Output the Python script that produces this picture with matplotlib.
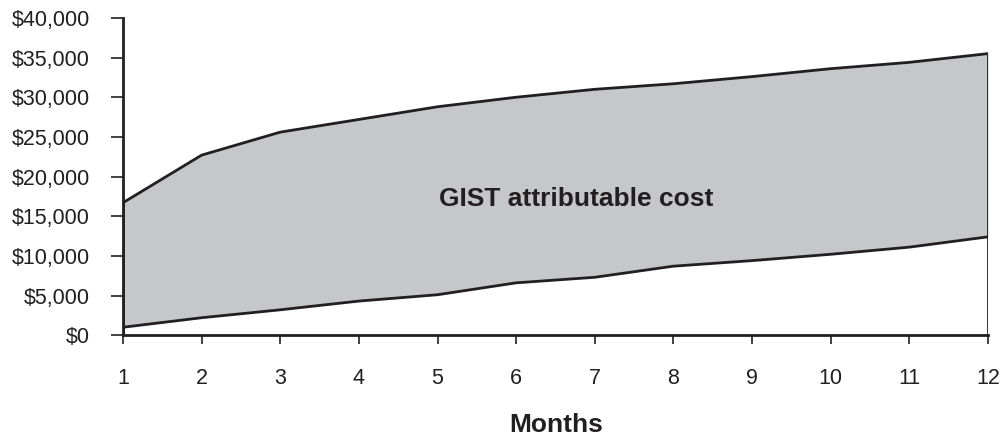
import numpy as np
import matplotlib.pyplot as plt
from matplotlib.ticker import FuncFormatter

plt.rcParams['font.family'] = ['Liberation Sans', 'DejaVu Sans']

months = [1, 2, 3, 4, 5, 6, 7, 8, 9, 10, 11, 12]
upper = [16700, 22700, 25600, 27200, 28800, 30000, 31000, 31700, 32600, 33600, 34400, 35500]
lower = [1000, 2200, 3200, 4300, 5100, 6600, 7300, 8700, 9400, 10200, 11100, 12400]
yticks = [0, 5000, 10000, 15000, 20000, 25000, 30000, 35000, 40000]

ink = '#231f20'
grey = '#c6c7c9'

fig = plt.figure(figsize=(10, 4.37), dpi=100)
ax = fig.add_axes([0.123, 0.233, 0.865, 0.726])

x = np.array(months)
ax.fill_between(x, lower, upper, color=grey, lw=0)
ax.plot(x, upper, color=ink, lw=2, solid_joinstyle='round')
ax.plot(x, lower, color=ink, lw=2, solid_joinstyle='round')
# vertical edges of the area at both ends
ax.plot([x[0], x[0]], [0, upper[0]], color=ink, lw=2)
ax.plot([x[-1], x[-1]], [0, upper[-1]], color=ink, lw=2)

ax.set_xlim(1, 12)
ax.set_ylim(0, 40000)
ax.set_xticks(months)
ax.set_yticks(yticks)
ax.yaxis.set_major_formatter(FuncFormatter(lambda v, p: '${:,.0f}'.format(v)))

for s in ['top', 'right']:
    ax.spines[s].set_visible(False)
for s in ['left', 'bottom']:
    ax.spines[s].set_color(ink)
    ax.spines[s].set_linewidth(2)

ax.tick_params(axis='y', direction='out', length=9, width=1.2, color=ink,
               labelsize=15.5, labelcolor=ink, pad=15)
ax.tick_params(axis='x', direction='out', length=6.5, width=1.2, color=ink,
               labelsize=15.5, labelcolor=ink, pad=17)

ax.text(6.76, 17200, 'GIST attributable cost', fontsize=19, fontweight='bold',
        color=ink, ha='center', va='center')
# axis title sits right at the bottom edge in the original
fig.text(0.556, 1 - 432 / 437, 'Months', fontsize=19, fontweight='bold',
         color=ink, ha='center', va='baseline')

fig.savefig('out.png', dpi=100)
